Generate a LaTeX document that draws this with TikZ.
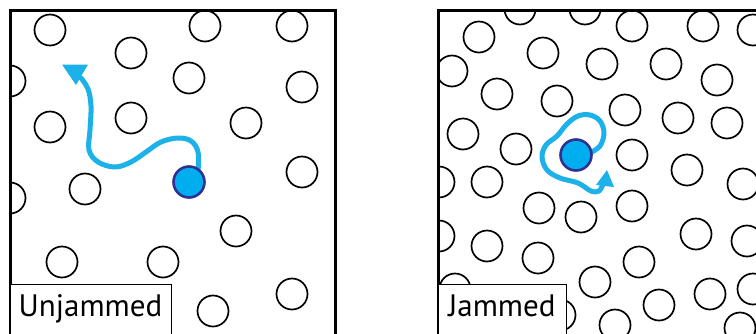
\documentclass[tikz,border=0pt]{standalone}
\usepackage{fontspec}
\setmainfont{PT Sans}
\definecolor{pathblue}{HTML}{1CB1E9}
\definecolor{partfill}{HTML}{00AEEF}
\definecolor{partdraw}{HTML}{2E3192}
\begin{document}
\begin{tikzpicture}[x=1pt,y=-1pt,
  ring/.style={draw=black,line width=1.7pt},
  frameline/.style={draw=black,line width=3pt},
  trail/.style={draw=pathblue,line width=5pt,line cap=round,line join=round},
  tiptri/.style={fill=pathblue},
  particle/.style={circle,fill=partfill,draw=partdraw,line width=2.6pt,minimum size=31pt,inner sep=0pt},
  labelbox/.style={draw=black,fill=white,line width=1.3pt,inner sep=0pt},
  labtext/.style={inner sep=0pt,font=\fontsize{31}{37}\selectfont}]
\useasboundingbox (0,0) rectangle (756,333);
% ---------- left panel ----------
\begin{scope}
  \clip (10,10) rectangle (335,345);
  \foreach \cx/\cy in {50/30,131/53,205/26,292/26,10/81,189/78,302/87,50/127,131/118,246/123,302/172,10/198,85/189,236/231,62/262,163/262,292/294,213/311}
    \draw[ring] (\cx,\cy) circle[radius=15.5pt];
\end{scope}
\draw[frameline] (10,345) -- (10,10) -- (335,10) -- (335,345);
\draw[trail] plot[smooth,tension=0.6] coordinates {(198,172) (198,152) (191,141) (178,138) (161,142) (146,152) (131,162) (115,167) (98,162) (89,150) (90,130) (91,106) (88,89) (81,78)};
\fill[tiptri] (62,64.5) -- (88,64.5) -- (76,85) -- cycle;
\node[particle] (p1) at (189,182) {};
\node[labelbox,minimum width=161pt,minimum height=60pt,anchor=north west] (lb1) at (10,284) {};
\node[labtext,anchor=base] (t1) at (90.5,316) {Unjammed};
% ---------- right panel ----------
\begin{scope}
  \clip (438,10) rectangle (770,345);
  \foreach \cx/\cy in {520/9,585/9,632/26,703/26,753/30,479/37,543/53,452/71,602/64,666/64,717/80,497/94,557/101,625/110,678/118,727/123,463/134,516/149,632/155,687/170,439/182,487/182,743/184,539/208,581/217,632/206,439/236,487/246,538/258,696/234,747/241,639/262,595/282,455/289,710/294,753/289,659/305,560/315,615/325,740/328}
    \draw[ring] (\cx,\cy) circle[radius=15.5pt];
\end{scope}
\draw[frameline] (438,345) -- (438,10) -- (770,10);
\draw[trail] plot[smooth,tension=0.6] coordinates {(590,153) (600,146) (604,133) (600,121) (590,115) (578,116) (567,124) (557,136) (546,145) (542,157) (547,170) (560,178) (578,183) (591,191) (599,191) (603,184)};
\fill[tiptri] (607,170) -- (596,185) -- (614,187) -- cycle;
\node[particle] (p2) at (576,155) {};
\node[labelbox,minimum width=128pt,minimum height=60pt,anchor=north west] (lb2) at (438,284) {};
\node[labtext,anchor=base] (t2) at (502,316) {Jammed};
\end{tikzpicture}
\end{document}
